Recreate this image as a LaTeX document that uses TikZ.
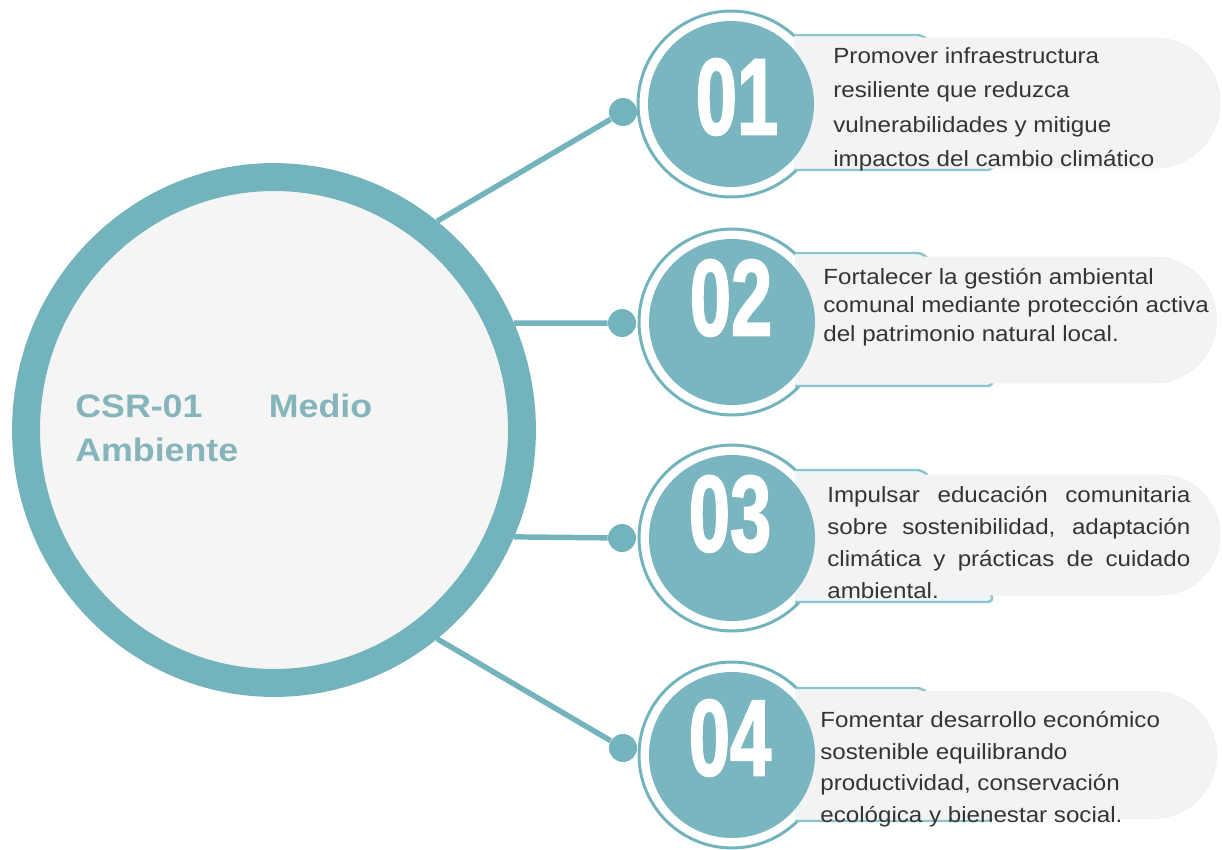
\documentclass[tikz,border=0pt]{standalone}
\usepackage{fontspec}
\setmainfont{Liberation Sans}[FakeStretch=1.1]
\newfontfamily\numfont{Liberation Sans}[UprightFont=* Bold, FakeStretch=0.68, FakeBold=1.5]
\usetikzlibrary{positioning,shapes.geometric,shapes.misc}
\definecolor{ringteal}{HTML}{73B3BC}
\definecolor{discteal}{HTML}{7AB6BF}
\definecolor{hubfill}{HTML}{F5F5F6}
\definecolor{hubtext}{HTML}{85B4BA}
\definecolor{boxline}{HTML}{8DC4CB}
\definecolor{boxfill}{HTML}{EFF6F7}
\definecolor{pillfill}{HTML}{F3F3F3}
\definecolor{bodytext}{HTML}{343434}

\begin{document}
\begin{tikzpicture}[
        x=0.02cm, y=-0.02cm,
        hub/.style={
            ellipse,
            draw=ringteal,
            line width=15.9pt,
            fill=hubfill,
            minimum width=9.92cm,
            minimum height=10.12cm,
            inner sep=0pt
        },
        ringnode/.style={
            circle,
            draw=ringteal,
            line width=1.7pt,
            fill=white,
            minimum size=3.72cm,
            inner sep=0pt
        },
        disc/.style={
            circle,
            fill=discteal,
            minimum size=3.32cm,
            inner sep=0pt
        },
        dot/.style={
            circle,
            fill=ringteal,
            minimum size=0.56cm,
            inner sep=0pt
        },
        pill/.style={
            rounded rectangle,
            rounded rectangle left arc=none,
            fill=pillfill,
            draw=black!6,
            line width=0.5pt,
            inner sep=0pt
        },
        tealbox/.style={
            fill=boxfill,
            draw=boxline,
            line width=1.4pt,
            rounded corners=0.16cm
        },
        num/.style={
            text=white,
            font=\numfont\fontsize{62}{62}\selectfont,
            inner sep=0pt
        },
        body/.style={
            anchor=north west,
            inner sep=0pt,
            align=left,
            text=bodytext
        },
        link/.style={
            draw=ringteal,
            line width=3.1pt
        }
    ]
        \useasboundingbox (0,0) rectangle (1222,849);

        % Centre circle
        \node[hub] (hub) at (274,430) {};
        \node[anchor=north west, inner sep=0pt, text width=5.94cm, align=left,
              text=hubtext, font=\bfseries\fontsize{18.5}{25}\selectfont]
              (hubtext) at (75,394) {CSR-01\hfill Medio\\Ambiente};

        % Item 01
        \node[ringnode] (r1) at (731,104) {};
        \draw[tealbox] (794,35) -- (925,35) -- (995,170) -- (794,170);
        \node[pill, minimum width=8.4cm, minimum height=2.6cm] (p1) at (1010,103) {};
        \node[disc] (n1) at (r1) {};
        \node[num] (l1) at (737,97) {01};
        \node[dot] (d1) at (623,112) {};

        % Item 02
        \node[ringnode] (r2) at (732,322) {};
        \draw[tealbox] (795,253) -- (925,253) -- (995,386) -- (795,386);
        \node[pill, minimum width=8.34cm, minimum height=2.52cm] (p2) at (1008,320) {};
        \node[disc] (n2) at (r2) {};
        \node[num] (l2) at (731,298) {02};
        \node[dot] (d2) at (622,323) {};

        % Item 03
        \node[ringnode] (r3) at (732,538) {};
        \draw[tealbox] (795,470) -- (925,470) -- (995,602) -- (795,602);
        \node[pill, minimum width=8.4cm, minimum height=2.4cm] (p3) at (1010,535) {};
        \node[disc] (n3) at (r3) {};
        \node[num] (l3) at (730,514) {03};
        \node[dot] (d3) at (622,538) {};

        % Item 04
        \node[ringnode] (r4) at (732,755) {};
        \draw[tealbox] (795,688) -- (925,688) -- (995,821) -- (795,821);
        \node[pill, minimum width=8.34cm, minimum height=2.54cm] (p4) at (1008,755) {};
        \node[disc] (n4) at (r4) {};
        \node[num] (l4) at (730,738) {04};
        \node[dot] (d4) at (623,748) {};

        \draw[link] (hub.52) -- (d1);
        \draw[link] (hub.24) -- (d2);
        \draw[link] (hub.-24) -- (d3);
        \draw[link] (hub.-52) -- (d4);

        % Texts
        \node[body, font=\fontsize{12.5}{19.6}\selectfont] (t1) at (833,47)
            {Promover infraestructura\\resiliente que reduzca\\vulnerabilidades y mitigue\\impactos del cambio climático};
        \node[body, font=\fontsize{12.5}{16.2}\selectfont] (t2) at (823,268)
            {Fortalecer la gestión ambiental\\comunal mediante protección activa\\del patrimonio natural local.};
        \node[body, text width=7.26cm, align=justify, font=\fontsize{12.5}{18.2}\selectfont] (t3) at (827,486)
            {Impulsar educación comunitaria\linebreak sobre sostenibilidad, adaptación\linebreak climática y prácticas de cuidado\linebreak ambiental.};
        \node[body, font=\fontsize{12.5}{18}\selectfont] (t4) at (820,711)
            {Fomentar desarrollo económico\\sostenible equilibrando\\productividad, conservación\\ecológica y bienestar social.};
    \end{tikzpicture}
\end{document}
